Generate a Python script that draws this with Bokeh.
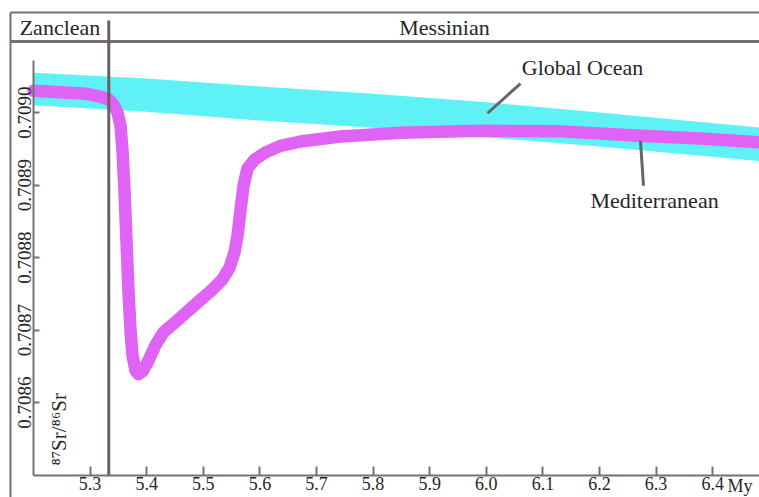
import math
from bokeh.plotting import figure
from bokeh.models import Range1d, LinearAxis, FixedTicker
from bokeh.core.properties import value
from bokeh.embed import file_html
from bokeh.resources import INLINE

# ---------------- data ----------------
# Global Ocean 87Sr/86Sr envelope (age in Ma)
ocean_age = [5.2, 5.4, 5.6, 5.8, 6.0, 6.2, 6.5]
ocean_upper = [0.709055, 0.709047, 0.709036, 0.709026, 0.709014, 0.709000, 0.708978]
ocean_lower = [0.709010, 0.709001, 0.708989, 0.708979, 0.708966, 0.708953, 0.708932]

# Mediterranean 87Sr/86Sr curve
med_age = [5.2000, 5.2477, 5.2919, 5.3184, 5.3325, 5.3413, 5.3484, 5.3537, 5.3572,
           5.3608, 5.3643, 5.3678, 5.3714, 5.3749, 5.3802, 5.3855, 5.3926, 5.4014,
           5.4155, 5.4297, 5.4597, 5.4898, 5.5163, 5.5339, 5.5463, 5.5551, 5.5604,
           5.5657, 5.5710, 5.5781, 5.5905, 5.6099, 5.6364, 5.6717, 5.7424, 5.8484,
           5.9898, 6.1311, 6.2724, 6.3784, 6.4827]
med_sr = [0.709030, 0.709028, 0.709026, 0.709022, 0.709018, 0.709011, 0.709000,
          0.708982, 0.708948, 0.708892, 0.708823, 0.708754, 0.708699, 0.708665,
          0.708644, 0.708639, 0.708643, 0.708655, 0.708679, 0.708697, 0.708717,
          0.708738, 0.708756, 0.708770, 0.708786, 0.708807, 0.708830, 0.708865,
          0.708899, 0.708923, 0.708935, 0.708945, 0.708954, 0.708960, 0.708967,
          0.708972, 0.708975, 0.708974, 0.708968, 0.708964, 0.708959]

x_ticks = [5.3, 5.4, 5.5, 5.6, 5.7, 5.8, 5.9, 6.0, 6.1, 6.2, 6.3, 6.4]
x_tick_labels = ["5.3", "5.4", "5.5", "5.6", "5.7", "5.8", "5.9", "6.0", "6.1", "6.2", "6.3", "6.4"]
y_ticks = [0.7086, 0.7087, 0.7088, 0.7089, 0.7090]
y_tick_labels = ["0.7086", "0.7087", "0.7088", "0.7089", "0.7090"]

stage_names = ["Zanclean", "Messinian"]
boundary_age = 5.333

# ---------------- figure ----------------
FONT = "Liberation Serif"
TXT = "#262626"
GRAY = "#767070"

p = figure(width=759, height=497,
           x_range=Range1d(5.14170, 6.48269),
           y_range=Range1d(0.708469, 0.7091545),
           output_backend="svg", toolbar_location=None,
           x_axis_location=None, y_axis_location=None, min_border=0)
p.outline_line_color = None
p.xgrid.visible = False
p.ygrid.visible = False
p.background_fill_color = "#ffffff"
p.border_fill_color = "#ffffff"

# axes
xaxis = LinearAxis(fixed_location=0.7085, bounds=(5.2, 6.5),
                   ticker=FixedTicker(ticks=x_ticks),
                   major_label_overrides={t: l for t, l in zip(x_ticks, x_tick_labels)})
xaxis.axis_line_color = GRAY
xaxis.axis_line_width = 2
xaxis.major_tick_line_color = GRAY
xaxis.major_tick_line_width = 2
xaxis.major_tick_in = 9
xaxis.major_tick_out = 0
xaxis.minor_tick_line_color = None
xaxis.major_label_text_font = FONT
xaxis.major_label_text_font_size = "18px"
xaxis.major_label_text_color = TXT
xaxis.major_label_standoff = 2
p.add_layout(xaxis, "below")

yaxis = LinearAxis(fixed_location=5.2, bounds=(0.7085, 0.709072),
                   ticker=FixedTicker(ticks=y_ticks),
                   major_label_overrides={t: l for t, l in zip(y_ticks, y_tick_labels)})
yaxis.axis_line_color = GRAY
yaxis.axis_line_width = 2
yaxis.major_tick_line_color = GRAY
yaxis.major_tick_line_width = 2
yaxis.major_tick_in = 6
yaxis.major_tick_out = 0
yaxis.minor_tick_line_color = None
yaxis.major_label_text_font = FONT
yaxis.major_label_text_font_size = "19px"
yaxis.major_label_text_color = TXT
yaxis.major_label_orientation = "vertical"
yaxis.major_label_standoff = 2
p.add_layout(yaxis, "left")

# data
p.varea(x=ocean_age, y1=ocean_lower, y2=ocean_upper, fill_color="#5ef2f7", fill_alpha=1.0)
p.line(med_age, med_sr, line_color="#df63f5", line_width=12.5,
       line_cap="round", line_join="round")

# stage header frame
frame_left = 5.15936
frame_top = 0.7091379
header_bottom = 0.7090979
right_end = 6.49
p.segment(x0=[frame_left, frame_left], y0=[frame_top, header_bottom],
          x1=[right_end, right_end], y1=[frame_top, header_bottom],
          line_color=GRAY, line_width=[2, 3])
p.segment(x0=[frame_left], y0=[frame_top], x1=[frame_left], y1=[0.7084],
          line_color=GRAY, line_width=2)
p.segment(x0=[boundary_age], y0=[0.7091269], x1=[boundary_age], y1=[0.7085],
          line_color="#6a6064", line_width=3)

p.text(x=[5.2468, 5.9261], y=[0.709117, 0.709117], text=stage_names,
       text_font=value(FONT), text_font_size="22px", text_color=TXT,
       text_align="center", text_baseline="middle")

# annotations
p.segment(x0=[6.0021, 6.2724], y0=[0.708999, 0.708961],
          x1=[6.0604, 6.2777], y1=[0.709040, 0.708899],
          line_color="#666666", line_width=3)
p.text(x=[6.17], y=[0.709062], text=["Global Ocean"],
       text_font=value(FONT), text_font_size="22px", text_color=TXT,
       text_align="center", text_baseline="middle")
p.text(x=[6.2972], y=[0.708879], text=["Mediterranean"],
       text_font=value(FONT), text_font_size="22px", text_color=TXT,
       text_align="center", text_baseline="middle")

# y-axis label inside the frame
p.text(x=[5.2450], y=[0.708563], text=["\u2078\u2077Sr/\u2078\u2076Sr"],
       angle=math.pi / 2,
       text_font=value(FONT), text_font_size="21px", text_color=TXT,
       text_align="center", text_baseline="middle")

# unit next to the last tick label
p.text(x=[6.426], y=[0.7084993], text=["My"],
       text_font=value(FONT), text_font_size="18px", text_color=TXT,
       text_align="left", text_baseline="top")

open("out.html", "w").write(file_html(p, INLINE))
